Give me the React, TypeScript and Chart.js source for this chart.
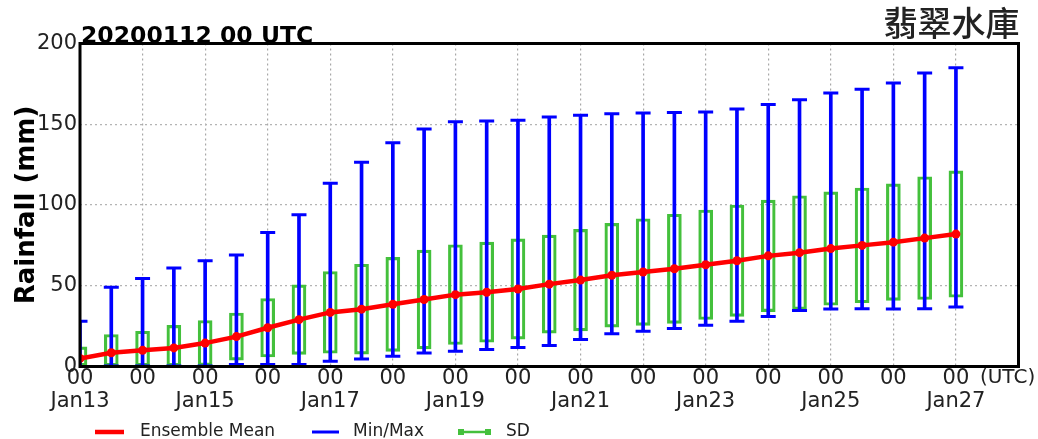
import React, { useEffect, useRef } from 'react';
import { Chart, registerables } from 'chart.js';

Chart.register(...registerables);

// x positions in days after Jan13 00 UTC (every 12 h)
const stepDays = [0, 0.5, 1, 1.5, 2, 2.5, 3, 3.5, 4, 4.5, 5, 5.5, 6, 6.5, 7, 7.5, 8, 8.5, 9, 9.5, 10, 10.5, 11, 11.5, 12, 12.5, 13, 13.5, 14];
const dayLabels = ['Jan13', 'Jan14', 'Jan15', 'Jan16', 'Jan17', 'Jan18', 'Jan19', 'Jan20', 'Jan21', 'Jan22', 'Jan23', 'Jan24', 'Jan25', 'Jan26', 'Jan27'];
const meanValues = [5, 8.5, 10, 11.5, 14.5, 18.5, 24, 29, 33.5, 35.5, 38.5, 41.5, 44.5, 46, 48, 51, 53.5, 56.5, 58.5, 60.5, 63, 65.5, 68.5, 70.5, 73, 75, 77, 79.5, 82];
const sdValues = [7.2, 11.3, 11.8, 14, 14, 14.6, 18.1, 21.5, 25.3, 27.8, 29.1, 30.6, 30.9, 31, 31, 30.3, 31.4, 32.1, 33, 33.8, 33.9, 34.5, 34.5, 35.2, 35.1, 35.5, 36.1, 38, 39.1];
const minValues = [0, 0.3, 0.3, 0.3, 0.3, 1.2, 1.2, 1.2, 3.3, 4.7, 6.4, 8.4, 9.5, 10.5, 11.7, 13, 16.7, 20.3, 21.8, 23.5, 25.5, 28, 31, 34.6, 35.6, 35.8, 35.6, 35.8, 36.9];
const maxValues = [28, 49, 54.5, 61, 65.5, 69, 83, 94, 113.5, 126.5, 138.5, 147, 151.5, 152, 152.5, 154.5, 155.5, 156.5, 157, 157.2, 157.6, 159.5, 162.3, 165.2, 169.3, 171.6, 175.5, 181.7, 185];

const titleLeft = '20200112 00 UTC';
const titleRight = '翡翠水庫';
const yTitle = 'Rainfall (mm)';
const legendLabels = ['Ensemble Mean', 'Min/Max', 'SD'];

const RED = '#ff0000';
const BLUE = '#0000ff';
const GREEN = '#44c03c';
const FONT = "'DejaVu Sans', sans-serif";

const decorPlugin = {
  id: 'decor',
  afterDatasetsDraw(chart: any) {
    const { ctx, chartArea } = chart;
    ctx.save();
    ctx.strokeStyle = '#000';
    ctx.lineWidth = 3;
    ctx.strokeRect(chartArea.left, chartArea.top, chartArea.right - chartArea.left, chartArea.bottom - chartArea.top);
    ctx.restore();
  },
  afterDraw(chart: any) {
    const { ctx, chartArea, scales } = chart;
    ctx.save();
    // titles
    ctx.fillStyle = '#000';
    ctx.font = `bold 23.5px ${FONT}`;
    ctx.textAlign = 'left';
    ctx.textBaseline = 'alphabetic';
    ctx.fillText(titleLeft, chartArea.left + 1, chartArea.top - 0.5);
    ctx.fillStyle = '#222';
    ctx.font = `500 34px 'Noto Sans CJK TC', 'Noto Sans CJK SC', sans-serif`;
    ctx.textAlign = 'right';
    ctx.textBaseline = 'middle';
    ctx.fillText(titleRight, chartArea.right + 1, 23);
    // (UTC)
    ctx.font = `20px ${FONT}`;
    ctx.fillStyle = '#222';
    ctx.textAlign = 'left';
    ctx.textBaseline = 'middle';
    const xLast = scales.x.getPixelForValue(stepDays[stepDays.length - 1]);
    ctx.fillText('(UTC)', xLast + 24, chartArea.bottom + 11.5);
    // legend
    const ly = 432;
    ctx.font = `17px ${FONT}`;
    ctx.fillStyle = '#222';
    ctx.lineCap = 'butt';
    // mean
    ctx.strokeStyle = RED;
    ctx.lineWidth = 4.5;
    ctx.beginPath(); ctx.moveTo(95, ly); ctx.lineTo(124, ly); ctx.stroke();
    ctx.fillText(legendLabels[0], 140, ly);
    // min/max
    ctx.strokeStyle = BLUE;
    ctx.lineWidth = 3;
    ctx.beginPath(); ctx.moveTo(312, ly); ctx.lineTo(339, ly); ctx.stroke();
    ctx.fillText(legendLabels[1], 353, ly);
    // SD
    ctx.strokeStyle = GREEN;
    ctx.fillStyle = GREEN;
    ctx.lineWidth = 2.5;
    ctx.beginPath(); ctx.moveTo(460, ly); ctx.lineTo(489, ly); ctx.stroke();
    ctx.fillRect(458, ly - 3, 6, 6);
    ctx.fillRect(485, ly - 3, 6, 6);
    ctx.fillStyle = '#222';
    ctx.fillText(legendLabels[2], 506, ly);
    ctx.restore();
  },
};

export default function App() {
  const canvasRef = useRef<HTMLCanvasElement | null>(null);

  useEffect(() => {
    if (!canvasRef.current) return;
    const meanData = stepDays.map((x, i) => ({ x, y: meanValues[i] }));
    const rangeData = stepDays.map((x, i) => ({ x, y: [minValues[i], maxValues[i]] }));
    const maxCapData = stepDays.map((x, i) => ({ x, y: maxValues[i] }));
    const minCapData = stepDays.map((x, i) => ({ x, y: minValues[i] }));
    const sdData = stepDays.map((x, i) => ({
      x,
      y: [Math.max(0, meanValues[i] - sdValues[i]), meanValues[i] + sdValues[i]],
    }));

    const chart = new Chart(canvasRef.current, {
      type: 'line',
      data: {
        datasets: [
          {
            type: 'line',
            label: legendLabels[0],
            data: meanData,
            borderColor: RED,
            backgroundColor: RED,
            borderWidth: 4.5,
            pointRadius: 4.5,
            pointBackgroundColor: RED,
            pointBorderColor: RED,
            pointBorderWidth: 0,
            tension: 0,
            order: 0,
          },
          {
            type: 'bar',
            label: legendLabels[1],
            data: rangeData,
            backgroundColor: BLUE,
            borderWidth: 0,
            barThickness: 3,
            grouped: false,
            order: 1,
          },
          {
            type: 'line',
            label: 'max',
            data: maxCapData,
            showLine: false,
            pointStyle: 'line',
            pointRadius: 7.5,
            pointBorderWidth: 3,
            pointBorderColor: BLUE,
            borderColor: BLUE,
            order: 1,
          },
          {
            type: 'line',
            label: 'min',
            data: minCapData,
            showLine: false,
            pointStyle: 'line',
            pointRadius: 7.5,
            pointBorderWidth: 3,
            pointBorderColor: BLUE,
            borderColor: BLUE,
            order: 1,
          },
          {
            type: 'bar',
            label: legendLabels[2],
            data: sdData,
            backgroundColor: 'rgba(0,0,0,0)',
            borderColor: GREEN,
            borderWidth: 2.5,
            borderSkipped: false,
            barThickness: 14,
            grouped: false,
            order: 2,
          },
        ] as any,
      },
      options: {
        animation: false,
        responsive: false,
        events: [],
        layout: { padding: { left: 0, right: 19.5, top: 43.5, bottom: 0 } },
        plugins: { legend: { display: false }, tooltip: { enabled: false }, title: { display: false } },
        scales: {
          x: {
            type: 'linear',
            min: 0,
            max: 15,
            offset: false,
            afterFit: (s: any) => { s.height = 72.5; },
            grid: { color: '#a8a8a8', lineWidth: 1.2, drawTicks: false, offset: false },
            border: { display: false, dash: [2, 3] },
            ticks: {
              stepSize: 1,
              autoSkip: false,
              maxRotation: 0,
              padding: 0,
              color: '#222',
              font: { family: FONT, size: 21, lineHeight: 1.1 },
              callback: (v: any) => {
                const d = Number(v);
                if (d >= dayLabels.length) return '';
                return d % 2 === 0 ? ['00', dayLabels[d]] : '00';
              },
            },
          },
          y: {
            type: 'linear',
            min: 0,
            max: 200,
            afterFit: (s: any) => { s.width = 80; },
            grid: { color: '#b4b4b4', lineWidth: 1.2, drawTicks: false },
            border: { display: false, dash: [2, 3] },
            ticks: {
              stepSize: 50,
              padding: 3,
              color: '#222',
              font: { family: FONT, size: 21 },
            },
            title: {
              display: true,
              text: yTitle,
              color: '#000',
              font: { family: FONT, size: 26, weight: 'bold', lineHeight: 1.2 },
              padding: { top: 12, bottom: 0 },
            },
          },
        },
      } as any,
      plugins: [decorPlugin],
    });
    return () => chart.destroy();
  }, []);

  return (
    <div style={{ position: 'fixed', left: 0, top: 0, width: 1038, height: 439, background: '#fff' }}>
      <canvas ref={canvasRef} width={1038} height={439} style={{ display: 'block' }} />
    </div>
  );
}
